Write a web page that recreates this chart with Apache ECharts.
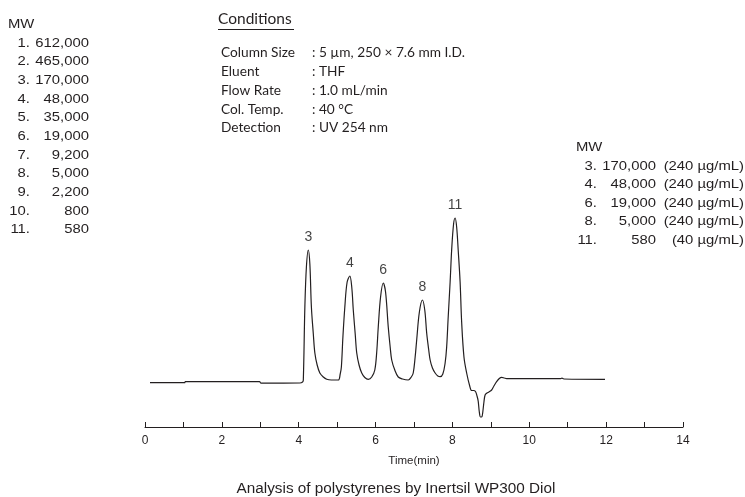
<!DOCTYPE html>
<html>
<head>
<meta charset="utf-8">
<script src="https://cdn.jsdelivr.net/npm/echarts@6/dist/echarts.min.js"></script>
<style>
  html, body { margin: 0; padding: 0; background: #fff; }
  #chart { width: 745px; height: 497px; }
</style>
</head>
<body>
<div id="chart"></div>
<script>
// chromatogram trace, [time (min), signal]
var trace = [
  [0.13, -0.7], [1.03, -0.7], [1.05, 0.3], [2.98, 0.3], [3.02, -1.2], [4.03, -1], [4.10, 0],
  [4.12, 2], [4.16, 75], [4.20, 115], [4.25, 132], [4.29, 118], [4.33, 75], [4.38, 48],
  [4.42, 29], [4.48, 17], [4.55, 9], [4.64, 5], [4.73, 2.7], [4.85, 2], [5.03, 2],
  [5.08, 8], [5.11, 15], [5.15, 45], [5.20, 75], [5.26, 100], [5.33, 106], [5.38, 95],
  [5.42, 72], [5.47, 48], [5.51, 29], [5.57, 17], [5.64, 9], [5.72, 4.5], [5.81, 2.7],
  [5.90, 5], [5.98, 12], [6.03, 30], [6.07, 55], [6.13, 85], [6.20, 99], [6.26, 90],
  [6.33, 55], [6.38, 35], [6.42, 22], [6.50, 12], [6.59, 5], [6.70, 3], [6.85, 2],
  [6.93, 5], [6.98, 9], [7.03, 25], [7.07, 42], [7.14, 70], [7.22, 82], [7.28, 72],
  [7.33, 49], [7.38, 33], [7.42, 22], [7.48, 14], [7.55, 9], [7.62, 6], [7.68, 5.3],
  [7.75, 8], [7.81, 19], [7.85, 35], [7.89, 65], [7.94, 100], [7.98, 132], [8.03, 158],
  [8.07, 164], [8.11, 155], [8.15, 132], [8.20, 100], [8.24, 60], [8.30, 25], [8.37, 9],
  [8.45, -4], [8.50, -8.5], [8.55, -8.5], [8.60, -9.5], [8.64, -14], [8.67, -19], [8.70, -30],
  [8.73, -35], [8.76, -35], [8.78, -33], [8.82, -20], [8.85, -13], [8.90, -11], [8.95, -10],
  [9.02, -8], [9.08, -4], [9.15, 0.3], [9.22, 3.5], [9.28, 4.7], [9.35, 4], [9.41, 3.3],
  [10.0, 3.3], [10.8, 3.3], [10.85, 3.8], [10.9, 3.0], [11.97, 2.7]
];

// peak labels
var peakNames = ['3', '4', '6', '8', '11'];
var peakTimes = [4.25, 5.33, 6.20, 7.22, 8.07];
var peakHeights = [132, 106, 99, 82, 164];

// x axis
var xMin = 0, xMax = 14, xStep = 1;

// left MW list
var mwIndex = ['1.', '2.', '3.', '4.', '5.', '6.', '7.', '8.', '9.', '10.', '11.'];
var mwValue = ['612,000', '465,000', '170,000', '48,000', '35,000', '19,000', '9,200', '5,000', '2,200', '800', '580'];

// conditions
var condLabels = ['Column Size', 'Eluent', 'Flow Rate', 'Col. Temp.', 'Detection'];
var condValues = [': 5 µm, 250 × 7.6 mm I.D.', ': THF', ': 1.0 mL/min', ': 40 °C', ': UV 254 nm'];

// right MW list (peaks shown)
var pkIndex = ['3.', '4.', '6.', '8.', '11.'];
var pkMW = ['170,000', '48,000', '19,000', '5,000', '580'];
var pkConc = ['(240 µg/mL)', '(240 µg/mL)', '(240 µg/mL)', '(240 µg/mL)', '(40 µg/mL)'];

var arial = 'Liberation Sans';
var cond = 'Lato';
var ink = '#231f20';

var graphics = [];
function txt(x, y, s, size, align, font, sx) {
  graphics.push({
    type: 'text', x: x, y: y, scaleX: sx || 1,
    style: {
      text: s, fill: ink, fontSize: size, fontFamily: font,
      textAlign: align || 'left', textVerticalAlign: 'middle'
    }
  });
}

// the list type is a bit wider than plain Arial
var wide = 1.1;

txt(8, 24, 'MW', 13.5, 'left', arial, wide);
mwIndex.forEach(function (s, i) {
  txt(30, 43 + i * 18.65, s, 13.5, 'right', arial, wide);
  txt(89, 43 + i * 18.65, mwValue[i], 13.5, 'right', arial, wide);
});

txt(218, 19, 'Conditions', 15.5, 'left', cond);
graphics.push({ type: 'line', shape: { x1: 218, y1: 29.5, x2: 294, y2: 29.5 }, style: { stroke: ink, lineWidth: 1 } });
condLabels.forEach(function (s, i) {
  txt(221, 53 + i * 18.75, s, 13.7, 'left', cond);
  txt(312, 53 + i * 18.75, condValues[i], 13.7, 'left', cond);
});

txt(576, 147, 'MW', 13.5, 'left', arial, wide);
pkIndex.forEach(function (s, i) {
  var y = 166 + i * 18.5;
  txt(597, y, s, 13.5, 'right', arial, wide);
  txt(656, y, pkMW[i], 13.5, 'right', arial, wide);
  txt(744, y, pkConc[i], 13.5, 'right', arial, wide);
});

var chart = echarts.init(document.getElementById('chart'), null, { renderer: 'canvas' });
chart.setOption({
  animation: false,
  backgroundColor: '#fff',
  title: {
    text: 'Analysis of polystyrenes by Inertsil WP300 Diol',
    left: 391, top: 476, textAlign: 'center',
    textStyle: { fontFamily: arial, fontSize: 15.3, fontWeight: 'normal', color: ink }
  },
  grid: { left: 145, right: 62, top: 150, bottom: 70 },
  xAxis: {
    type: 'value', min: xMin, max: xMax, interval: xStep,
    name: 'Time(min)', nameLocation: 'middle', nameGap: 28,
    nameTextStyle: { fontFamily: arial, fontSize: 11.5, color: ink },
    axisLine: { onZero: false, lineStyle: { color: ink, width: 1 } },
    axisTick: { inside: true, length: 5, lineStyle: { color: ink } },
    axisLabel: {
      fontFamily: arial, fontSize: 12, color: ink, margin: 8,
      formatter: function (v) { return v % 2 === 0 ? String(v) : ''; }
    },
    splitLine: { show: false }
  },
  yAxis: { type: 'value', min: -45, max: 232, show: false },
  series: [
    {
      type: 'line', data: trace, showSymbol: false, smooth: 0.35,
      lineStyle: { color: ink, width: 1.2 }
    },
    {
      type: 'scatter', symbolSize: 0,
      data: peakTimes.map(function (t, i) { return { value: [t, peakHeights[i]], name: peakNames[i] }; }),
      label: {
        show: true, position: 'top', distance: 6, formatter: '{b}',
        fontFamily: arial, fontSize: 14, color: '#111'
      }
    }
  ],
  graphic: graphics
});
</script>
</body>
</html>
